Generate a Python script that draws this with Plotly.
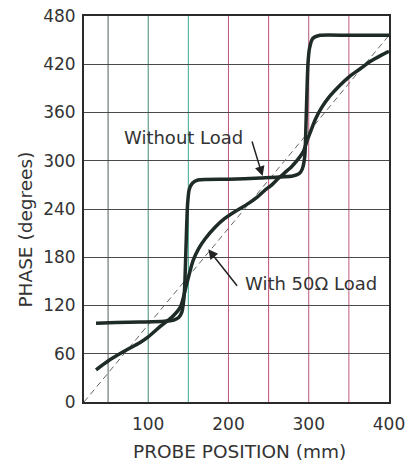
import plotly.graph_objects as go

# ---- data ----
no_load_x = [35, 60, 90, 120, 132, 138, 142, 145, 147, 149, 151, 155, 162, 200, 240, 280, 288, 292, 295, 297, 299, 301, 305, 314, 350, 400]
no_load_y = [98, 99, 99.5, 100.5, 102, 105, 112, 135, 190, 245, 264, 272, 276, 277, 278.5, 281, 284, 290, 305, 360, 420, 440, 452, 456, 456, 456]

load_x = [35, 50, 70, 90, 100, 115, 130, 140, 148, 156, 163, 171, 183, 195, 210, 225, 235, 245, 254, 262, 270, 278, 286, 293, 298, 303, 308, 316, 326, 338, 351, 365, 376, 390, 400]
load_y = [40, 51, 63, 74, 81, 94, 106, 118, 147, 176, 191, 203, 217, 228, 238, 247, 254, 263, 270, 278, 285, 292, 301, 311, 325, 338, 351, 366, 380, 393, 405, 415, 423, 431, 436]

ref_x = [20, 400]
ref_y = [0, 456]

x_tick_vals = [50, 100, 150, 200, 250, 300, 350, 400]
x_tick_text = ["", "100", "", "200", "", "300", "", "400"]
y_tick_vals = [0, 60, 120, 180, 240, 300, 360, 420, 480]
y_tick_text = ["0", "60", "120", "180", "240", "300", "360", "420", "480"]

vgrid_x = [50, 100, 150, 200, 250, 300, 350]
vgrid_colors = ["#55605c", "#468a78", "#3aa88c", "#c2577d", "#c44d7a", "#b8587a", "#c45a82"]

FONT = "DejaVu Sans"
TXT = "#333333"
CURVE = "#1f2b27"

fig = go.Figure()

fig.add_trace(go.Scatter(x=ref_x, y=ref_y, mode="lines",
                         line=dict(color="#666666", width=1, dash="6px,4px"),
                         hoverinfo="skip", showlegend=False))
fig.add_trace(go.Scatter(x=no_load_x, y=no_load_y, mode="lines",
                         line=dict(color=CURVE, width=3.5, shape="spline", smoothing=0.6),
                         showlegend=False))
fig.add_trace(go.Scatter(x=load_x, y=load_y, mode="lines",
                         line=dict(color=CURVE, width=3.5, shape="spline", smoothing=0.8),
                         showlegend=False))

shapes = []
for gx, gc in zip(vgrid_x, vgrid_colors):
    shapes.append(dict(type="line", xref="x", yref="y", x0=gx, x1=gx, y0=0, y1=480,
                       line=dict(color=gc, width=1), layer="below"))

annotations = [
    dict(text="Without Load", x=144.5, y=329.5, xref="x", yref="y", showarrow=False,
         font=dict(family=FONT, size=18, color=TXT)),
    dict(text="With 50\u03a9 Load", x=303.4, y=147.6, xref="x", yref="y", showarrow=False,
         font=dict(family=FONT, size=18, color=TXT)),
    dict(text="", x=242.5, y=281, xref="x", yref="y", showarrow=True, ax=-11, ay=-36,
         arrowhead=2, arrowsize=1.3, arrowwidth=1.5, arrowcolor="#222222", standoff=0),
    dict(text="", x=174.8, y=190, xref="x", yref="y", showarrow=True, ax=30, ay=38,
         arrowhead=2, arrowsize=1.3, arrowwidth=1.5, arrowcolor="#222222", standoff=0),
    dict(text="PHASE (degrees)", x=-0.193, y=0.447, xref="paper", yref="paper",
         textangle=-90, showarrow=False, xanchor="center", yanchor="middle",
         font=dict(family=FONT, size=18.5, color=TXT)),
    dict(text="PROBE POSITION (mm)", x=0.511, y=-0.129, xref="paper", yref="paper",
         showarrow=False, xanchor="center", yanchor="middle",
         font=dict(family=FONT, size=18.5, color=TXT)),
]

fig.update_layout(
    width=407, height=464,
    margin=dict(l=84, r=18, t=16, b=62, autoexpand=False),
    paper_bgcolor="white", plot_bgcolor="white",
    font=dict(family=FONT, size=17, color=TXT),
    shapes=shapes, annotations=annotations,
    xaxis=dict(range=[20, 400], tickvals=x_tick_vals, ticktext=x_tick_text,
               showgrid=False, zeroline=False, showline=True, mirror=True,
               linecolor="#2a2a2a", linewidth=2, ticks="", ticklabelstandoff=6,
               automargin=False, ticklabeloverflow="allow",
               tickfont=dict(family=FONT, size=17, color=TXT)),
    yaxis=dict(range=[0, 480], tickvals=y_tick_vals, ticktext=y_tick_text,
               showgrid=True, gridcolor="#4a4a4a", gridwidth=1, zeroline=False,
               showline=True, mirror=True, linecolor="#2a2a2a", linewidth=2,
               ticks="", ticklabelstandoff=3, automargin=False,
               ticklabeloverflow="allow",
               tickfont=dict(family=FONT, size=17, color=TXT)),
)

fig.write_html("out.html",
               config={"displayModeBar": False},
               post_script="document.body.style.margin='0px';document.body.style.overflow='hidden';")
